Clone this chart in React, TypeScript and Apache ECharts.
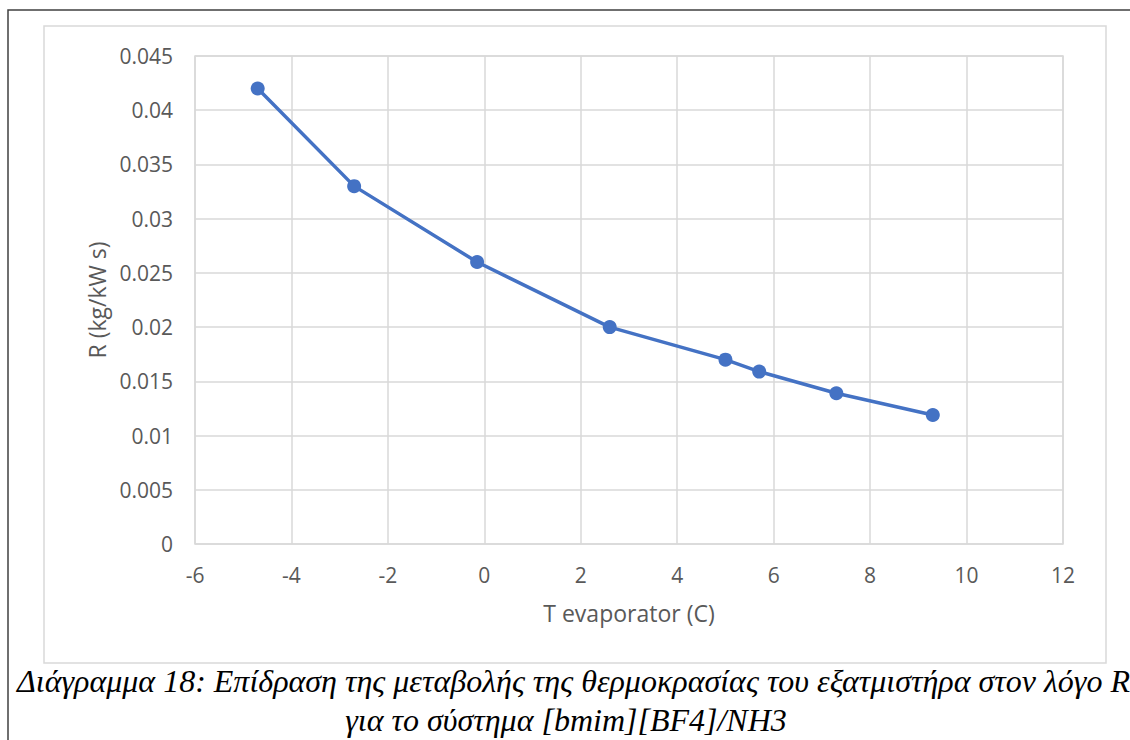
import React, { useEffect, useRef } from "react";
import * as echarts from "echarts";

// Evaporator temperature (°C) and ratio R (kg/kW s)
const tEvaporator: number[] = [-4.7, -2.7, -0.15, 2.6, 5.0, 5.7, 7.3, 9.3];
const ratioR: number[] = [0.042, 0.033, 0.026, 0.02, 0.017, 0.0159, 0.0139, 0.0119];

const xAxisTitle = "T evaporator (C)";
const yAxisTitle = "R (kg/kW s)";
const captionLine1 =
  "Διάγραμμα 18: Επίδραση της μεταβολής της θερμοκρασίας του εξατμιστήρα στον λόγο R";
const captionLine2 = "για το σύστημα [bmim][BF4]/NH3";

const axisFont = "'Open Sans', sans-serif";
const captionFont = "italic 32px 'Liberation Serif', serif";
const textGray = "#595959";
const gridGray = "#d9d9d9";
const seriesBlue = "#4472C4";

export default function App() {
  const ref = useRef<HTMLDivElement>(null);

  useEffect(() => {
    if (!ref.current) return;
    const chart = echarts.init(ref.current, undefined, { renderer: "svg" });
    const points = tEvaporator.map((t, i) => [t, ratioR[i]]);

    chart.setOption({
      animation: false,
      backgroundColor: "#ffffff",
      grid: { left: 195, top: 56, right: 67, bottom: 196, containLabel: false },
      xAxis: {
        type: "value",
        min: -6,
        max: 12,
        interval: 2,
        name: xAxisTitle,
        nameLocation: "middle",
        nameGap: 57,
        nameTextStyle: { color: textGray, fontFamily: axisFont, fontSize: 23 },
        axisLine: { show: false },
        axisTick: { show: false },
        axisLabel: { color: textGray, fontFamily: axisFont, fontSize: 21, margin: 20 },
        splitLine: { show: true, lineStyle: { color: gridGray, width: 1.5 } },
      },
      yAxis: {
        type: "value",
        min: 0,
        max: 0.045,
        interval: 0.005,
        name: yAxisTitle,
        nameLocation: "middle",
        nameGap: 87,
        nameTextStyle: { color: textGray, fontFamily: axisFont, fontSize: 23 },
        axisLine: { show: false },
        axisTick: { show: false },
        axisLabel: {
          color: textGray,
          fontFamily: axisFont,
          fontSize: 21,
          margin: 22,
          formatter: (v: number) => String(parseFloat(v.toFixed(3))),
        },
        splitLine: { show: true, lineStyle: { color: gridGray, width: 1.5 } },
      },
      series: [
        {
          type: "line",
          data: points,
          symbol: "circle",
          symbolSize: 14,
          lineStyle: { color: seriesBlue, width: 3.5 },
          itemStyle: { color: seriesBlue },
        },
      ],
      graphic: [
        // chart area frame
        {
          type: "rect",
          shape: { x: 44, y: 26, width: 1062, height: 637 },
          style: { fill: "none", stroke: gridGray, lineWidth: 1.5 },
          silent: true,
        },
        // plot area outline
        {
          type: "rect",
          shape: { x: 195, y: 56, width: 868, height: 488 },
          style: { fill: "none", stroke: gridGray, lineWidth: 1.5 },
          silent: true,
        },
        // page frame
        {
          type: "polyline",
          shape: { points: [[8, 740], [8, 10], [1130, 10]] },
          style: { fill: "none", stroke: "#404040", lineWidth: 1.5 },
          silent: true,
        },
        {
          type: "text",
          x: 17,
          y: 665,
          style: {
            text: captionLine1,
            fill: "#000000",
            font: captionFont,
            textAlign: "left",
            textVerticalAlign: "top",
          },
        },
        {
          type: "text",
          x: 566,
          y: 704,
          style: {
            text: captionLine2,
            fill: "#000000",
            font: captionFont,
            textAlign: "center",
            textVerticalAlign: "top",
          },
        },
      ],
    });

    return () => chart.dispose();
  }, []);

  return (
    <div
      ref={ref}
      style={{ position: "fixed", left: 0, top: 0, width: 1130, height: 740 }}
    />
  );
}
